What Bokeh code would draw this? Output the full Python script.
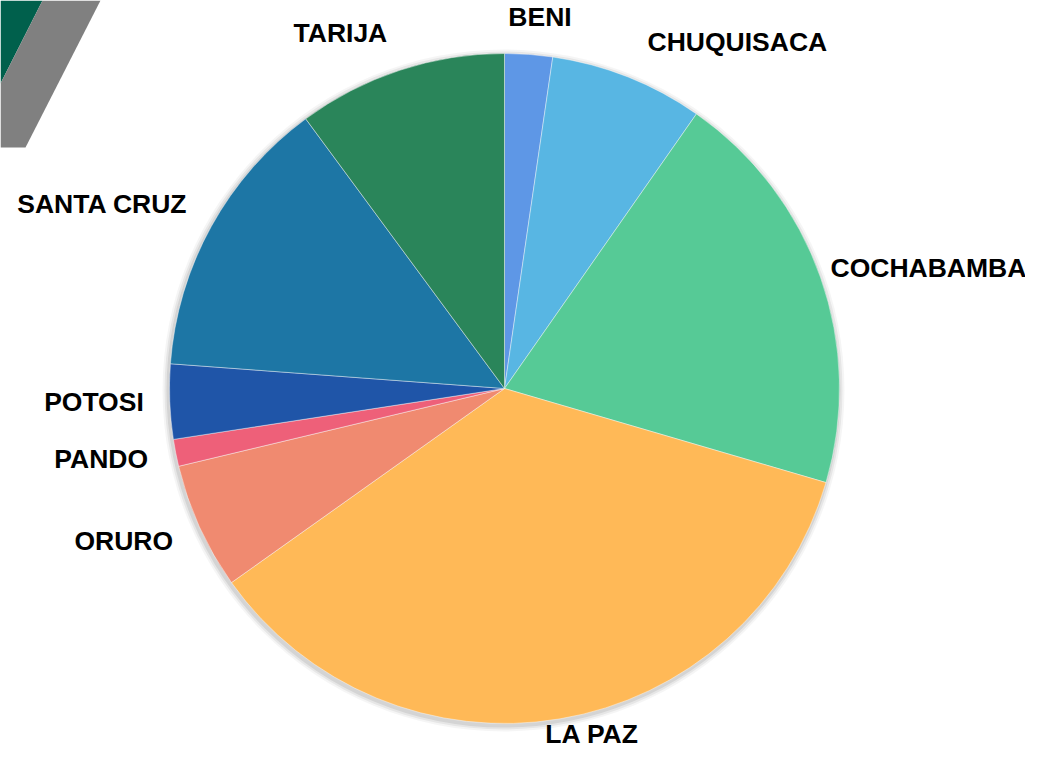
import math
from bokeh.plotting import figure
from bokeh.models import Range1d, ColumnDataSource
from bokeh.embed import file_html
from bokeh.resources import INLINE
from bokeh.core.properties import value

# ---- data ----
departments = ["BENI", "CHUQUISACA", "COCHABAMBA", "LA PAZ", "ORURO",
               "PANDO", "POTOSI", "SANTA CRUZ", "TARIJA"]
shares = [2.3, 7.4, 19.8, 35.6, 6.1, 1.3, 3.6, 13.7, 10.1]
colors = ["#5E97E6", "#58B6E3", "#56CA96", "#FFB957", "#F08A70",
          "#EE6079", "#1F55A8", "#1D76A5", "#2A855A"]

# label fine-tuning offsets in pixels (right, down)
label_nudge = [(10, -4), (13, -3), (-7, -3), (29, -18), (-10, 7),
               (-10, 3), (-8, 0), (-8, 1), (-7, -5)]

# ---- layout (pixel-like data space, y up: y_data = 766 - y_px) ----
W, H = 1025, 750
TOP = 766
CX, CY = 504, TOP - 388
R = 335
GAP = 18

p = figure(width=W, height=H, output_backend="svg", toolbar_location=None,
           x_range=Range1d(0, W), y_range=Range1d(TOP - H, TOP),
           min_border=0, outline_line_color=None, background_fill_color="white")
p.axis.visible = False
p.grid.visible = False

# corner decoration
p.patch([0, 42, 0], [TOP, TOP, TOP - 83], fill_color="#00604C", line_color=None)
p.patch([42, 100, 25, 0, 0], [TOP, TOP, TOP - 147, TOP - 147, TOP - 83],
        fill_color="#808080", line_color=None)

# soft shadow
for dr, a in [(6, 0.04), (4, 0.06), (2, 0.08)]:
    p.circle(x=[CX - 1], y=[CY - 2], radius=R + dr, fill_color="black",
             fill_alpha=a, line_color=None)

total = sum(shares)
starts, ends, mids = [], [], []
cum = 0.0
for v in shares:
    a0 = cum / total * 2 * math.pi
    cum += v
    a1 = cum / total * 2 * math.pi
    starts.append(math.pi / 2 - a1)
    ends.append(math.pi / 2 - a0)
    mids.append((a0 + a1) / 2)

src = ColumnDataSource(dict(start=starts, end=ends, color=colors, name=departments))
p.wedge(x=CX, y=CY, radius=R, start_angle="start", end_angle="end",
        fill_color="color", line_color="white", line_width=0.7, line_alpha=0.6,
        source=src)

# labels
for name, m, (nx, ny) in zip(departments, mids, label_nudge):
    dx, dy = math.sin(m), math.cos(m)
    lx = CX + (R + GAP) * dx + nx
    ly = CY + (R + GAP) * dy - ny
    align = "left" if dx > 0.25 else ("right" if dx < -0.25 else "center")
    base = "bottom" if dy > 0.45 else ("top" if dy < -0.6 else "middle")
    p.text(x=[lx], y=[ly], text=[name], text_font=value("Liberation Sans"),
           text_font_style="bold", text_font_size="26.5px", text_color="black",
           text_align=align, text_baseline=base)

open("out.html", "w").write(file_html(p, INLINE))
